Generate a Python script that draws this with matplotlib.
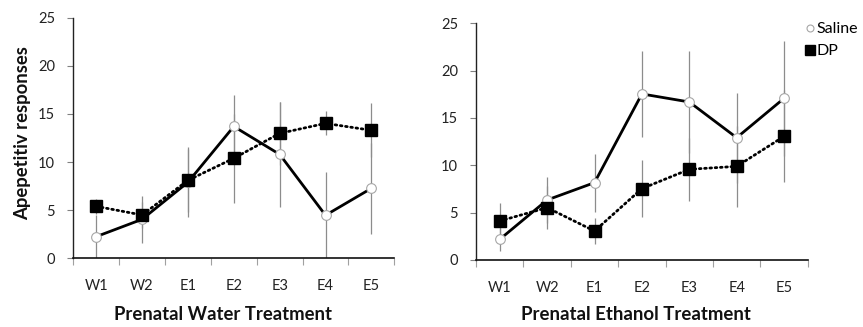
import matplotlib
matplotlib.use("Agg")
import matplotlib.pyplot as plt
from matplotlib.lines import Line2D
from matplotlib.ticker import FixedLocator, NullFormatter

plt.rcParams['font.family'] = ['Lato', 'DejaVu Sans']

categories = ["W1", "W2", "E1", "E2", "E3", "E4", "E5"]

# Prenatal water treatment
water_saline = [2.25, 4.05, 7.9, 13.7, 10.8, 4.47, 7.27]
water_saline_err = [2.3, 2.45, 3.65, 3.28, 5.45, 4.47, 4.7]
water_dp = [5.4, 4.5, 8.1, 10.39, 12.98, 14.02, 13.3]
water_dp_err = [0.8, 1.4, 3.3, 4.6, 3.3, 1.25, 2.8]

# Prenatal ethanol treatment
eth_saline = [2.18, 6.34, 8.17, 17.54, 16.69, 12.92, 17.08]
eth_saline_err = [1.2, 2.46, 3.05, 4.55, 5.4, 4.76, 6.05]
eth_dp = [4.12, 5.53, 3.06, 7.54, 9.58, 9.89, 13.06]
eth_dp_err = [1.85, 2.3, 1.4, 3.0, 3.3, 4.3, 4.85]

yticks = [0, 5, 10, 15, 20, 25]

fig = plt.figure(figsize=(8.63, 3.27), dpi=100)
ax1 = fig.add_axes([0.0849, 0.2101, 0.372, 0.7358])
ax2 = fig.add_axes([0.5516, 0.2049, 0.3844, 0.7238])

def draw(ax, sal, sal_err, dp, dp_err):
    x = list(range(len(categories)))
    ax.errorbar(x, sal, yerr=sal_err, fmt='none', ecolor='#8c8c8c', elinewidth=0.9, capsize=0, zorder=1)
    ax.errorbar(x, dp, yerr=dp_err, fmt='none', ecolor='#8c8c8c', elinewidth=0.9, capsize=0, zorder=1)
    ax.plot(x, sal, color='black', lw=2.0, marker='o', ms=7, mfc='white', mec='#a6a6a6', mew=0.8, zorder=3)
    ax.plot(x, dp, color='black', lw=2.0, ls=(0, (0.6, 1.3)), dash_capstyle='round', marker='s', ms=8.5, mfc='black', mec='black', zorder=4)
    ax.set_xlim(-0.5, len(categories) - 0.5)
    ax.set_ylim(0, 25)
    ax.set_yticks(yticks)
    ax.set_xticks(x)
    ax.set_xticklabels(categories)
    ax.xaxis.set_minor_locator(FixedLocator([i - 0.5 for i in range(len(categories) + 1)]))
    ax.xaxis.set_minor_formatter(NullFormatter())
    ax.tick_params(axis='x', which='major', length=0, pad=15, labelsize=10.5, labelcolor='#222222')
    ax.tick_params(axis='x', which='minor', length=5, width=0.8, color='#a0a0a0', direction='out')
    ax.tick_params(axis='y', length=4, width=0.8, color='#808080', pad=9, labelsize=10.5, labelcolor='#222222')
    for s in ['top', 'right']:
        ax.spines[s].set_visible(False)
    ax.spines['left'].set_color('#222222')
    ax.spines['bottom'].set_color('#111111')
    ax.spines['left'].set_linewidth(1.0)
    ax.spines['bottom'].set_linewidth(1.2)

draw(ax1, water_saline, water_saline_err, water_dp, water_dp_err)
draw(ax2, eth_saline, eth_saline_err, eth_dp, eth_dp_err)

fig.text(222.5 / 863, 1 - 314 / 327, "Prenatal Water Treatment", ha='center', va='center',
         fontsize=13.3, fontweight='bold', color='#111111')
fig.text(636 / 863, 1 - 315 / 327, "Prenatal Ethanol Treatment", ha='center', va='center',
         fontsize=13.4, fontweight='bold', color='#111111')
fig.text(23 / 863, 1 - 133 / 327, "Apepetitiv responses", ha='center', va='center', rotation=90,
         fontsize=13.3, fontweight='bold', color='#111111')

handles = [
    Line2D([], [], ls='none', marker='o', ms=5, mfc='white', mec='#a6a6a6', mew=0.8),
    Line2D([], [], ls='none', marker='s', ms=6.5, mfc='black', mec='black'),
]
fig.legend(handles, ["Saline", "DP"], loc='upper left', bbox_to_anchor=(805 / 863, 1 - 22 / 327),
           frameon=False, fontsize=11.5, handlelength=0.6, handletextpad=0.1, labelspacing=0.5,
           borderaxespad=0, borderpad=0)

fig.savefig("out.png", dpi=100)
